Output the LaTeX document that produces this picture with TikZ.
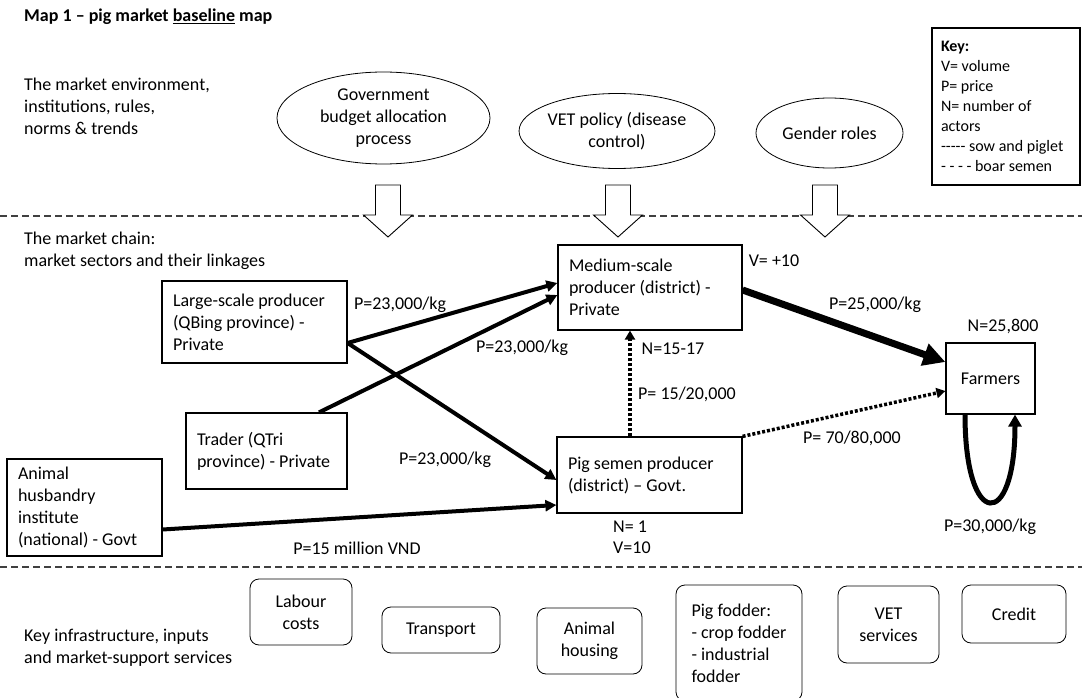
\documentclass[tikz,border=0pt]{standalone}
\usepackage{fontspec}
\setmainfont{Carlito}
\usetikzlibrary{shapes.geometric,arrows.meta,positioning}
\newcommand\mapfont{\fontsize{18}{22}\selectfont}
\newcommand\keyfont{\fontsize{16}{20}\selectfont}

\begin{document}
\begin{tikzpicture}[x=1pt, y=-1pt, font=\mapfont,
    actor/.style={rectangle, draw, line width=1.2pt, align=flush left, inner xsep=11pt, inner ysep=0pt},
    policy/.style={ellipse, draw, line width=0.8pt, align=center, inner sep=0pt},
    service/.style={rectangle, draw, line width=0.8pt, rounded corners=9pt, align=center, inner sep=0pt},
    heading/.style={inner sep=0pt, align=left, anchor=west},
    flowtext/.style={inner sep=0pt},
    flow/.style={line width=4pt, -{Triangle[length=11pt,width=11pt]}},
    bigflow/.style={line width=7pt, -{Triangle[length=22pt,width=22pt]}},
    semenflow/.style={line width=3.5pt, dash pattern=on 3pt off 2pt, -{Triangle[length=9pt,width=10pt]}},
    selfflow/.style={line width=5pt, -{Triangle[length=12pt,width=13pt]}},
    divider/.style={line width=1.1pt, black!75, dash pattern=on 7pt off 4pt}]

    \useasboundingbox (0,0) rectangle (1082,698);

    % headings on the left
    \node[heading, font=\mapfont\bfseries] (title) at (24,17) {Map 1 – pig market \underline{baseline} map};
    \node[heading] (envtext) at (24,106.5) {The market environment,\\institutions, rules,\\norms \& trends};
    \node[heading] (chaintext) at (24,250.5) {The market chain:\\market sectors and their linkages};
    \node[heading] (servtext) at (24,647.5) {Key infrastructure, inputs\\and market-support services};

    % key
    \node[actor, font=\keyfont, inner xsep=9pt, text width=130pt, minimum height=157pt] (key) at (1006,106.5)
        {\textbf{Key:}\\V= volume\\P= price\\N= number of\\actors\\-{}-{}-{}-{}- sow and piglet\\- - - - boar semen};

    % environment
    \node[policy, minimum width=213pt, minimum height=92pt] (gov) at (383.5,118) {Government\\budget allocation\\process};
    \node[policy, minimum width=195pt, minimum height=75pt] (vetpol) at (617,131) {VET policy (disease\\control)};
    \node[policy, minimum width=147pt, minimum height=70pt] (gender) at (829.5,133) {Gender roles};

    \draw[divider] (0,216) -- (1082,216);
    \draw[divider] (0,567) -- (1082,567);

    \foreach \x in {388,618,825}
        \draw[line width=0.9pt, fill=white] (\x-12.5,185) -- (\x+12.5,185) -- (\x+12.5,215) -- (\x+24.5,215)
            -- (\x,237) -- (\x-24.5,215) -- (\x-12.5,215) -- cycle;

    % market chain
    \node[actor, text width=163pt, minimum height=82pt] (large) at (254.5,322) {Large-scale producer\\(QBing province) -\\Private};
    \node[actor, text width=139pt, minimum height=76pt] (trader) at (266.5,451) {Trader (QTri\\province) - Private};
    \node[actor, text width=133pt, minimum height=97pt] (animal) at (84.5,507.5) {Animal\\husbandry\\institute\\(national) - Govt};
    \node[actor, text width=162pt, minimum height=85pt] (medium) at (650,287.5) {Medium-scale\\producer (district) -\\Private};
    \node[actor, text width=163pt, minimum height=76pt] (semen) at (649.5,475) {Pig semen producer\\(district) – Govt.};
    \node[actor, align=center, minimum width=89pt, minimum height=71pt] (farmers) at (990.5,378.5) {Farmers};

    \draw[flow] ([yshift=-21pt]large.east) -- ([yshift=4.5pt]medium.west);
    \draw[flow] ([xshift=52.5pt]trader.north) -- ([yshift=-7.5pt]medium.west);
    \draw[flow] ([yshift=-21pt]large.east) -- ([yshift=-5pt]semen.west);
    \draw[flow] ([yshift=-22pt]animal.east) -- ([yshift=-30pt]semen.west);
    \draw[bigflow] ([yshift=-2.5pt]medium.east) -- ([yshift=16.5pt]farmers.west);
    \draw[semenflow] ([xshift=-19.5pt]semen.north) -- ([xshift=-20pt]medium.south);
    \draw[semenflow] (semen.north east) -- ([yshift=-12.5pt]farmers.west);
    \draw[selfflow] ([xshift=-25.5pt]farmers.south) .. controls +(0,116) and +(0,116) .. ([xshift=24.5pt]farmers.south);

    \node[flowtext] (plarge) at (400,305) {P=23,000/kg};
    \node[flowtext] (ptrader) at (522,348) {P=23,000/kg};
    \node[flowtext] (psemen) at (445,460) {P=23,000/kg};
    \node[flowtext] (panimal) at (357,548) {P=15 million VND};
    \node[flowtext] (vmedium) at (774,261) {V= +10};
    \node[flowtext] (pmedium) at (875,305) {P=25,000/kg};
    \node[flowtext] (nfarmers) at (1003,327) {N=25,800};
    \node[flowtext] (nmedium) at (673,349) {N=15-17};
    \node[flowtext] (pboar) at (687,394) {P= 15/20,000};
    \node[flowtext] (psow) at (852,438) {P= 70/80,000};
    \node[flowtext, anchor=west] (nsemen) at (613,527) {N= 1};
    \node[flowtext, anchor=west] (vsemen) at (613,548) {V=10};
    \node[flowtext] (pfarmers) at (990,527) {P=30,000/kg};

    % support services
    \node[service, minimum width=102pt, minimum height=66pt] (labour) at (301,612) {Labour\\costs};
    \node[service, minimum width=118pt, minimum height=46pt] (transport) at (441,630) {Transport};
    \node[service, minimum width=105pt, minimum height=66pt] (housing) at (589.5,641) {Animal\\housing};
    \node[service, minimum width=126pt, minimum height=116pt, align=left] (fodder) at (739,643) {Pig fodder:\\- crop fodder\\- industrial\\fodder};
    \node[service, minimum width=101pt, minimum height=77pt] (vetserv) at (888.5,624.5) {VET\\services};
    \node[service, minimum width=104pt, minimum height=58pt] (credit) at (1014,614) {Credit};
\end{tikzpicture}
\end{document}
